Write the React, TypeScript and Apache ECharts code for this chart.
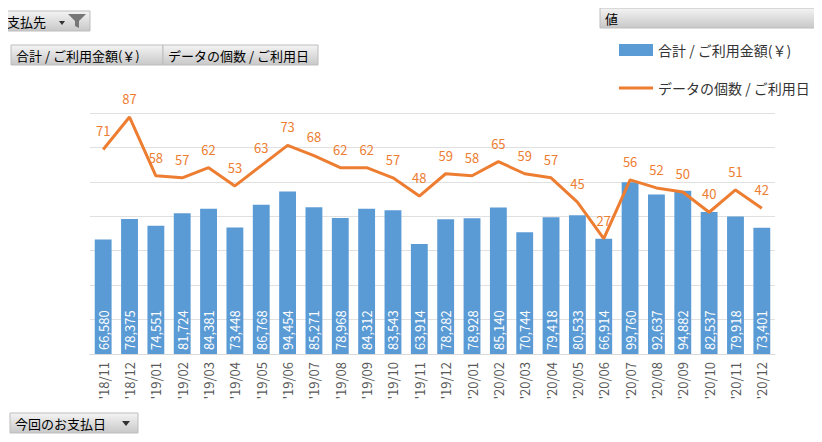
import React, { useEffect, useRef } from 'react';
import * as echarts from 'echarts';

const months = [
  "'18/11", "'18/12", "'19/01", "'19/02", "'19/03", "'19/04", "'19/05", "'19/06", "'19/07",
  "'19/08", "'19/09", "'19/10", "'19/11", "'19/12", "'20/01", "'20/02", "'20/03", "'20/04",
  "'20/05", "'20/06", "'20/07", "'20/08", "'20/09", "'20/10", "'20/11", "'20/12",
];
const amounts = [
  66580, 78375, 74551, 81724, 84381, 73448, 86768, 94454, 85271, 78968, 84312, 83543, 63914,
  78282, 78928, 85140, 70744, 79418, 80533, 66914, 99760, 92637, 94882, 82537, 79918, 73401,
];
const counts = [
  71, 87, 58, 57, 62, 53, 63, 73, 68, 62, 62, 57, 48, 59, 58, 65, 59, 57, 45, 27, 56, 52, 50, 40, 51, 42,
];

const FONT = "'Noto Sans CJK JP', 'Noto Sans', sans-serif";
const btnFill = new echarts.graphic.LinearGradient(0, 0, 0, 1, [
  { offset: 0, color: '#f4f4f4' },
  { offset: 1, color: '#c8c8c8' },
]);

const button = (x: number, y: number, w: number, label: string, arrow = false) => ({
  type: 'group',
  x,
  y,
  children: [
    { type: 'rect', shape: { x: 0, y: 0, width: w, height: 20 }, style: { fill: btnFill, stroke: '#bdbdbd', lineWidth: 1 } },
    { type: 'text', style: { x: 5, y: 10, text: label, fill: '#000', font: `13px ${FONT}`, verticalAlign: 'middle' } },
    ...(arrow
      ? [{ type: 'polygon', shape: { points: [[w - 16, 8], [w - 8, 8], [w - 12, 13]] }, style: { fill: '#333' } }]
      : []),
  ],
});

const App: React.FC = () => {
  const chartRef = useRef<HTMLDivElement>(null);

  useEffect(() => {
    const chart = echarts.init(chartRef.current!, undefined, { renderer: 'svg' });
    chart.setOption({
      animation: false,
      backgroundColor: '#fff',
      textStyle: { fontFamily: FONT },
      grid: { left: 90, right: 47, top: 113, bottom: 88 },
      legend: {
        orient: 'vertical',
        left: 614,
        top: 38,
        itemGap: 24,
        itemWidth: 34,
        itemHeight: 12,
        textStyle: { fontSize: 14, color: '#333' },
        data: [
          { name: '合計 / ご利用金額(￥)', icon: 'rect' },
          { name: 'データの個数 / ご利用日', icon: 'path://M0,5H34V8H0Z', itemStyle: { color: '#ED7D31' } },
        ],
      },
      xAxis: {
        type: 'category',
        data: months,
        axisLine: { lineStyle: { color: '#d9d9d9' } },
        axisTick: { show: false },
        axisLabel: { rotate: 90, color: '#595959', fontSize: 13, interval: 0 },
      },
      yAxis: [
        {
          type: 'value',
          min: 0,
          max: 140000,
          interval: 20000,
          axisLabel: { show: false },
          axisLine: { show: false },
          axisTick: { show: false },
          splitLine: { lineStyle: { color: '#e0e0e0' } },
        },
        {
          type: 'value',
          min: -30,
          max: 89,
          interval: 17,
          show: false,
          splitLine: { show: false },
        },
      ],
      series: [
        {
          name: '合計 / ご利用金額(￥)',
          type: 'bar',
          data: amounts,
          barWidth: '64%',
          itemStyle: { color: '#5B9BD5' },
          label: {
            show: true,
            position: 'insideBottom',
            rotate: 90,
            align: 'left',
            verticalAlign: 'middle',
            distance: 4,
            color: '#fff',
            fontSize: 13,
            formatter: (p: any) => p.value.toLocaleString('en-US'),
          },
        },
        {
          name: 'データの個数 / ご利用日',
          type: 'line',
          yAxisIndex: 1,
          data: counts,
          symbol: 'circle',
          symbolSize: 0.1,
          showSymbol: true,
          lineStyle: { color: '#ED7D31', width: 3 },
          itemStyle: { color: '#ED7D31' },
          label: { show: true, position: 'top', color: '#ED7D31', fontSize: 13, distance: 12 },
        },
      ],
      graphic: [
        {
          type: 'group',
          x: 2,
          y: 11,
          children: [
            { type: 'rect', shape: { x: 0, y: 0, width: 88, height: 20 }, style: { fill: btnFill, stroke: '#bdbdbd' } },
            { type: 'text', style: { x: 5, y: 10, text: '支払先', fill: '#000', font: `13px ${FONT}`, verticalAlign: 'middle' } },
            { type: 'polygon', shape: { points: [[57, 10], [63, 10], [60, 14]] }, style: { fill: '#333' } },
            { type: 'polygon', shape: { points: [[66, 3], [84, 3], [77, 10], [77, 17], [73, 15], [73, 10]] }, style: { fill: '#777' } },
          ],
        },
        button(11, 45, 152, '合計 / ご利用金額(￥)'),
        button(163, 45, 155, 'データの個数 / ご利用日'),
        {
          type: 'group',
          x: 600,
          y: 8,
          children: [
            { type: 'rect', shape: { x: 0, y: 0, width: 220, height: 20 }, style: { fill: btnFill, stroke: '#bdbdbd' } },
            { type: 'text', style: { x: 5, y: 10, text: '値', fill: '#000', font: `13px ${FONT}`, verticalAlign: 'middle' } },
          ],
        },
        button(10, 413, 128, '今回のお支払日', true),
      ],
    });
    return () => chart.dispose();
  }, []);

  return <div ref={chartRef} style={{ width: 822, height: 442, margin: -8 }} />;
};

export default App;
